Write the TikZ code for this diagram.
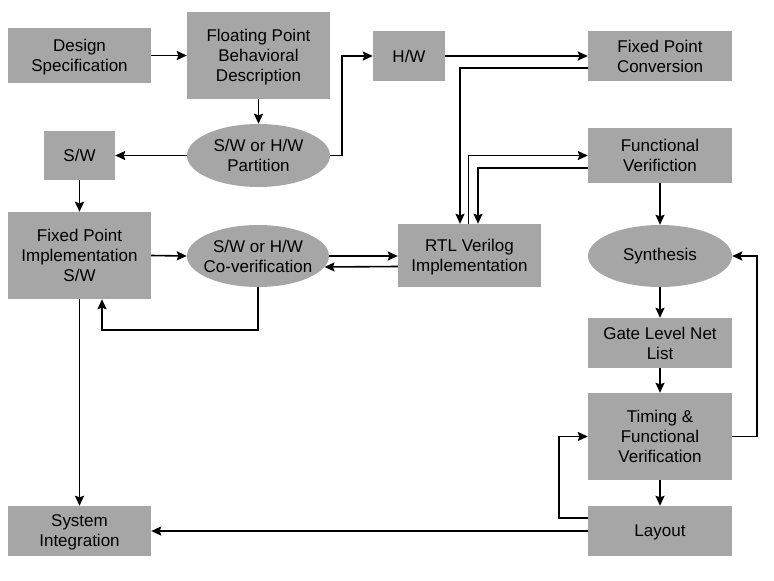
\documentclass[tikz,border=0pt]{standalone}
\usepackage{fontspec}
\setmainfont{Liberation Sans}
\usetikzlibrary{shapes.geometric,arrows.meta,calc}
\newcommand{\zbox}[1]{\makebox[0pt]{#1}}
\begin{document}
\begin{tikzpicture}[x=1pt,y=-1pt,
  blk/.style={rectangle,fill=boxgray,inner sep=0pt,align=center,
    font=\fontsize{17}{20}\selectfont,text=black,text depth=0pt},
  ell/.style={ellipse,fill=boxgray,inner sep=0pt,align=center,
    font=\fontsize{17}{20}\selectfont,text=black},
  arr/.style={line width=1.6pt,-{Stealth[length=10pt,width=9pt,inset=1.5pt]}},
  ln/.style={line width=1.6pt}]
\definecolor{boxgray}{RGB}{166,166,166}
\useasboundingbox (0,0) rectangle (774,581);
% nodes
\node[blk,minimum width=143,minimum height=55] (ds) at (79.5,55.5) {Design\\Specification};
\node[blk,minimum width=143,minimum height=87] (fp) at (258.5,55.5) {Floating Point\\Behavioral\\Description};
\node[blk,minimum width=72,minimum height=50] (hw) at (409,56) {H/W};
\node[blk,minimum width=144,minimum height=50] (fpc) at (660,56) {Fixed Point\\Conversion};
\node[ell,minimum width=143,minimum height=63] (part) at (258.5,155.5) {\zbox{S/W or H/W}\\\zbox{Partition}};
\node[blk,minimum width=71,minimum height=49] (sw) at (79.5,155.5) {S/W};
\node[blk,minimum width=144,minimum height=55] (fv) at (660,155.5) {Functional\\Verifiction};
\node[blk,minimum width=143,minimum height=87] (fpi) at (79.5,255.5) {Fixed Point\\Implementation\\S/W};
\node[ell,minimum width=142,minimum height=62] (cov) at (258,256) {\zbox{S/W or H/W}\\\zbox{Co-verification}};
\node[blk,minimum width=143,minimum height=63] (rtl) at (469.5,255.5) {RTL Verilog\\Implementation};
\node[ell,minimum width=144,minimum height=62] (syn) at (660,256) {\zbox{Synthesis}};
\node[blk,minimum width=144,minimum height=50] (gl) at (660,343) {Gate Level Net\\List};
\node[blk,minimum width=144,minimum height=87] (tf) at (660,436.5) {Timing \&\\Functional\\Verification};
\node[blk,minimum width=144,minimum height=50] (lay) at (660,531) {Layout};
\node[blk,minimum width=143,minimum height=50] (si) at (79.5,531) {System\\Integration};
% connectors
\draw[arr] (ds.east) -- (fp.west);
\draw[arr] (fp.south) -- (part.north);
\draw[arr] (part.west) -- (sw.east);
\draw[arr] (part.east) -- ++(12,0) |- (hw.west);
\draw[arr] (hw.east) -- (fpc.west);
\draw[arr] ($(fpc.west)+(0,12)$) -| ($(rtl.north)+(-9.5,0)$);
\draw[arr] ($(rtl.north)+(-1,0)$) |- (fv.west);
\draw[arr] ($(fv.west)+(0,12.5)$) -| ($(rtl.north)+(8.5,0)$);
\draw[arr] (fv.south) -- (syn.north);
\draw[arr] (syn.south) -- (gl.north);
\draw[arr] (gl.south) -- (tf.north);
\draw[arr] (tf.south) -- (lay.north);
\draw[arr] (tf.east) -- ++(25,0) |- (syn.east);
\draw[arr] ($(lay.west)+(0,-13)$) -- ++(-29,0) |- (tf.west);
\draw[arr] (lay.west) -- (si.east);
\draw[arr] (sw.south) -- (fpi.north);
\draw[arr] (fpi.east) -- (cov.west);
\draw[arr] (cov.east) -- (cov.east -| rtl.west);
\draw[arr] ($(rtl.west)+(0,11)$) -- ($(cov.center)+(66.5,11)$);
\draw[arr] (cov.south) -- ++(0,43) -| ($(fpi.south)+(22.5,0)$);
\draw[arr] (fpi.south) -- (si.north);
\end{tikzpicture}
\end{document}
